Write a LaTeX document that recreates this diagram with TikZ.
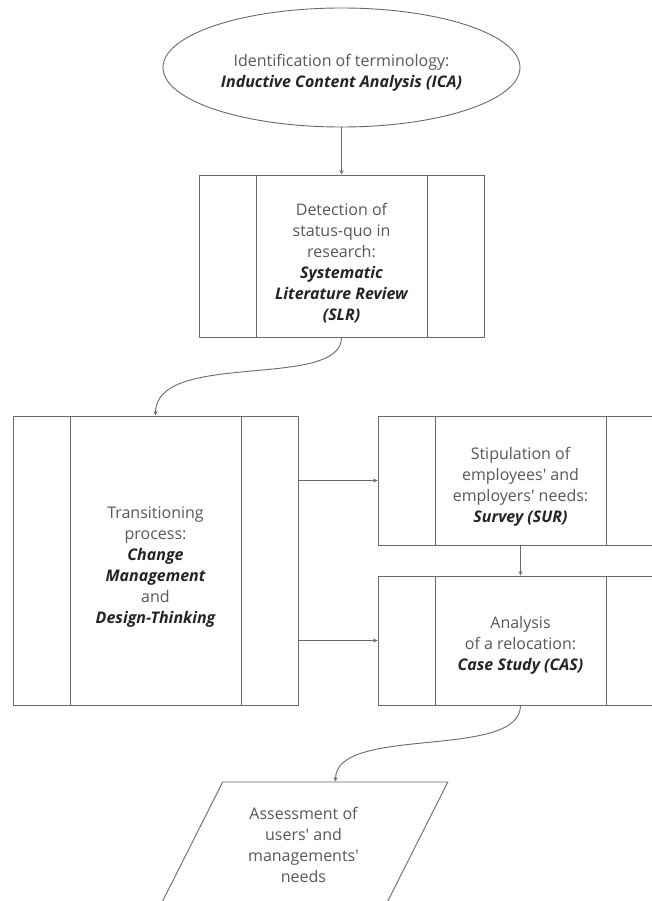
\documentclass[tikz,border=0pt]{standalone}
\usepackage{fontspec}
\setmainfont{Open Sans}
\usetikzlibrary{shapes.geometric,arrows.meta}
\definecolor{linegray}{HTML}{6A6A6A}
\definecolor{txtgray}{HTML}{585858}
\definecolor{txtdark}{HTML}{242424}
\newcommand{\bi}[1]{{\color{txtdark}\bfseries\itshape #1}}
\newcommand{\ap}{\textquotesingle}
\newcommand{\dn}[1]{\rule{0pt}{#1}}
\tikzset{
  every node/.style={font=\fontsize{16}{21}\selectfont, text=txtgray, align=center},
  lin/.style={draw=linegray, line width=0.9pt},
  arr/.style={lin, -{Stealth[length=4.5pt,width=4pt]}},
  procbox/.style={lin, rectangle, minimum width=285pt, inner sep=0pt,
    path picture={
      \draw[linegray, line width=0.9pt]
        ([xshift=57pt]path picture bounding box.north west) -- ([xshift=57pt]path picture bounding box.south west)
        ([xshift=-57pt]path picture bounding box.north east) -- ([xshift=-57pt]path picture bounding box.south east);
    }},
}
\begin{document}
\begin{tikzpicture}[x=1pt,y=-1pt]
\useasboundingbox (0,0) rectangle (652,901);
\clip (0,0) rectangle (652,901);
\fill[white] (0,0) rectangle (652,901);

\node[lin, ellipse, minimum width=357pt, minimum height=119pt, inner sep=0pt] (ell) at (341.5,67.5)
  {\dn{23pt}Identification of terminology:\\ \bi{Inductive Content Analysis (ICA)}};

\node[procbox, minimum height=162pt] (slr) at (341.5,256)
  {\dn{26pt}Detection of\\ status-quo in\\ research:\\ \bi{Systematic}\\ \bi{Literature Review}\\ \bi{(SLR)}};

\node[procbox, minimum height=289pt] (big) at (155.5,560.5)
  {\dn{25pt}Transitioning\\ process:\\ \bi{Change}\\ \bi{Management}\\ and\\ \bi{Design-Thinking}};

\node[procbox, minimum height=129pt] (sur) at (520.5,480.5)
  {\dn{25pt}Stipulation of\\ employees\ap{} and\\ employers\ap{} needs:\\ \bi{Survey (SUR)}};

\node[procbox, minimum height=129pt] (cas) at (520.5,640.5)
  {\dn{22pt}Analysis\\ of a relocation:\\ \bi{Case Study (CAS)}};

\node[lin, trapezium, trapezium left angle=60, trapezium right angle=120,
      trapezium stretches=true, minimum width=289pt, minimum height=126pt, inner sep=0pt] (ass) at (303.5,845)
  {Assessment of\\ users\ap{} and\\ managements\ap\\ needs};

\draw[arr] (ell.south) -- (slr.north);
\draw[arr] (slr.south) .. controls +(0,53) and +(0,-66) .. (big.north);
\draw[arr] (sur.west -| big.east) -- (sur.west);
\draw[arr] (cas.west -| big.east) -- (cas.west);
\draw[arr] (sur.south) -- (cas.north);
\draw[arr] (cas.south) .. controls +(0,55) and +(0,-57) .. (ass.top side);
\end{tikzpicture}
\end{document}
